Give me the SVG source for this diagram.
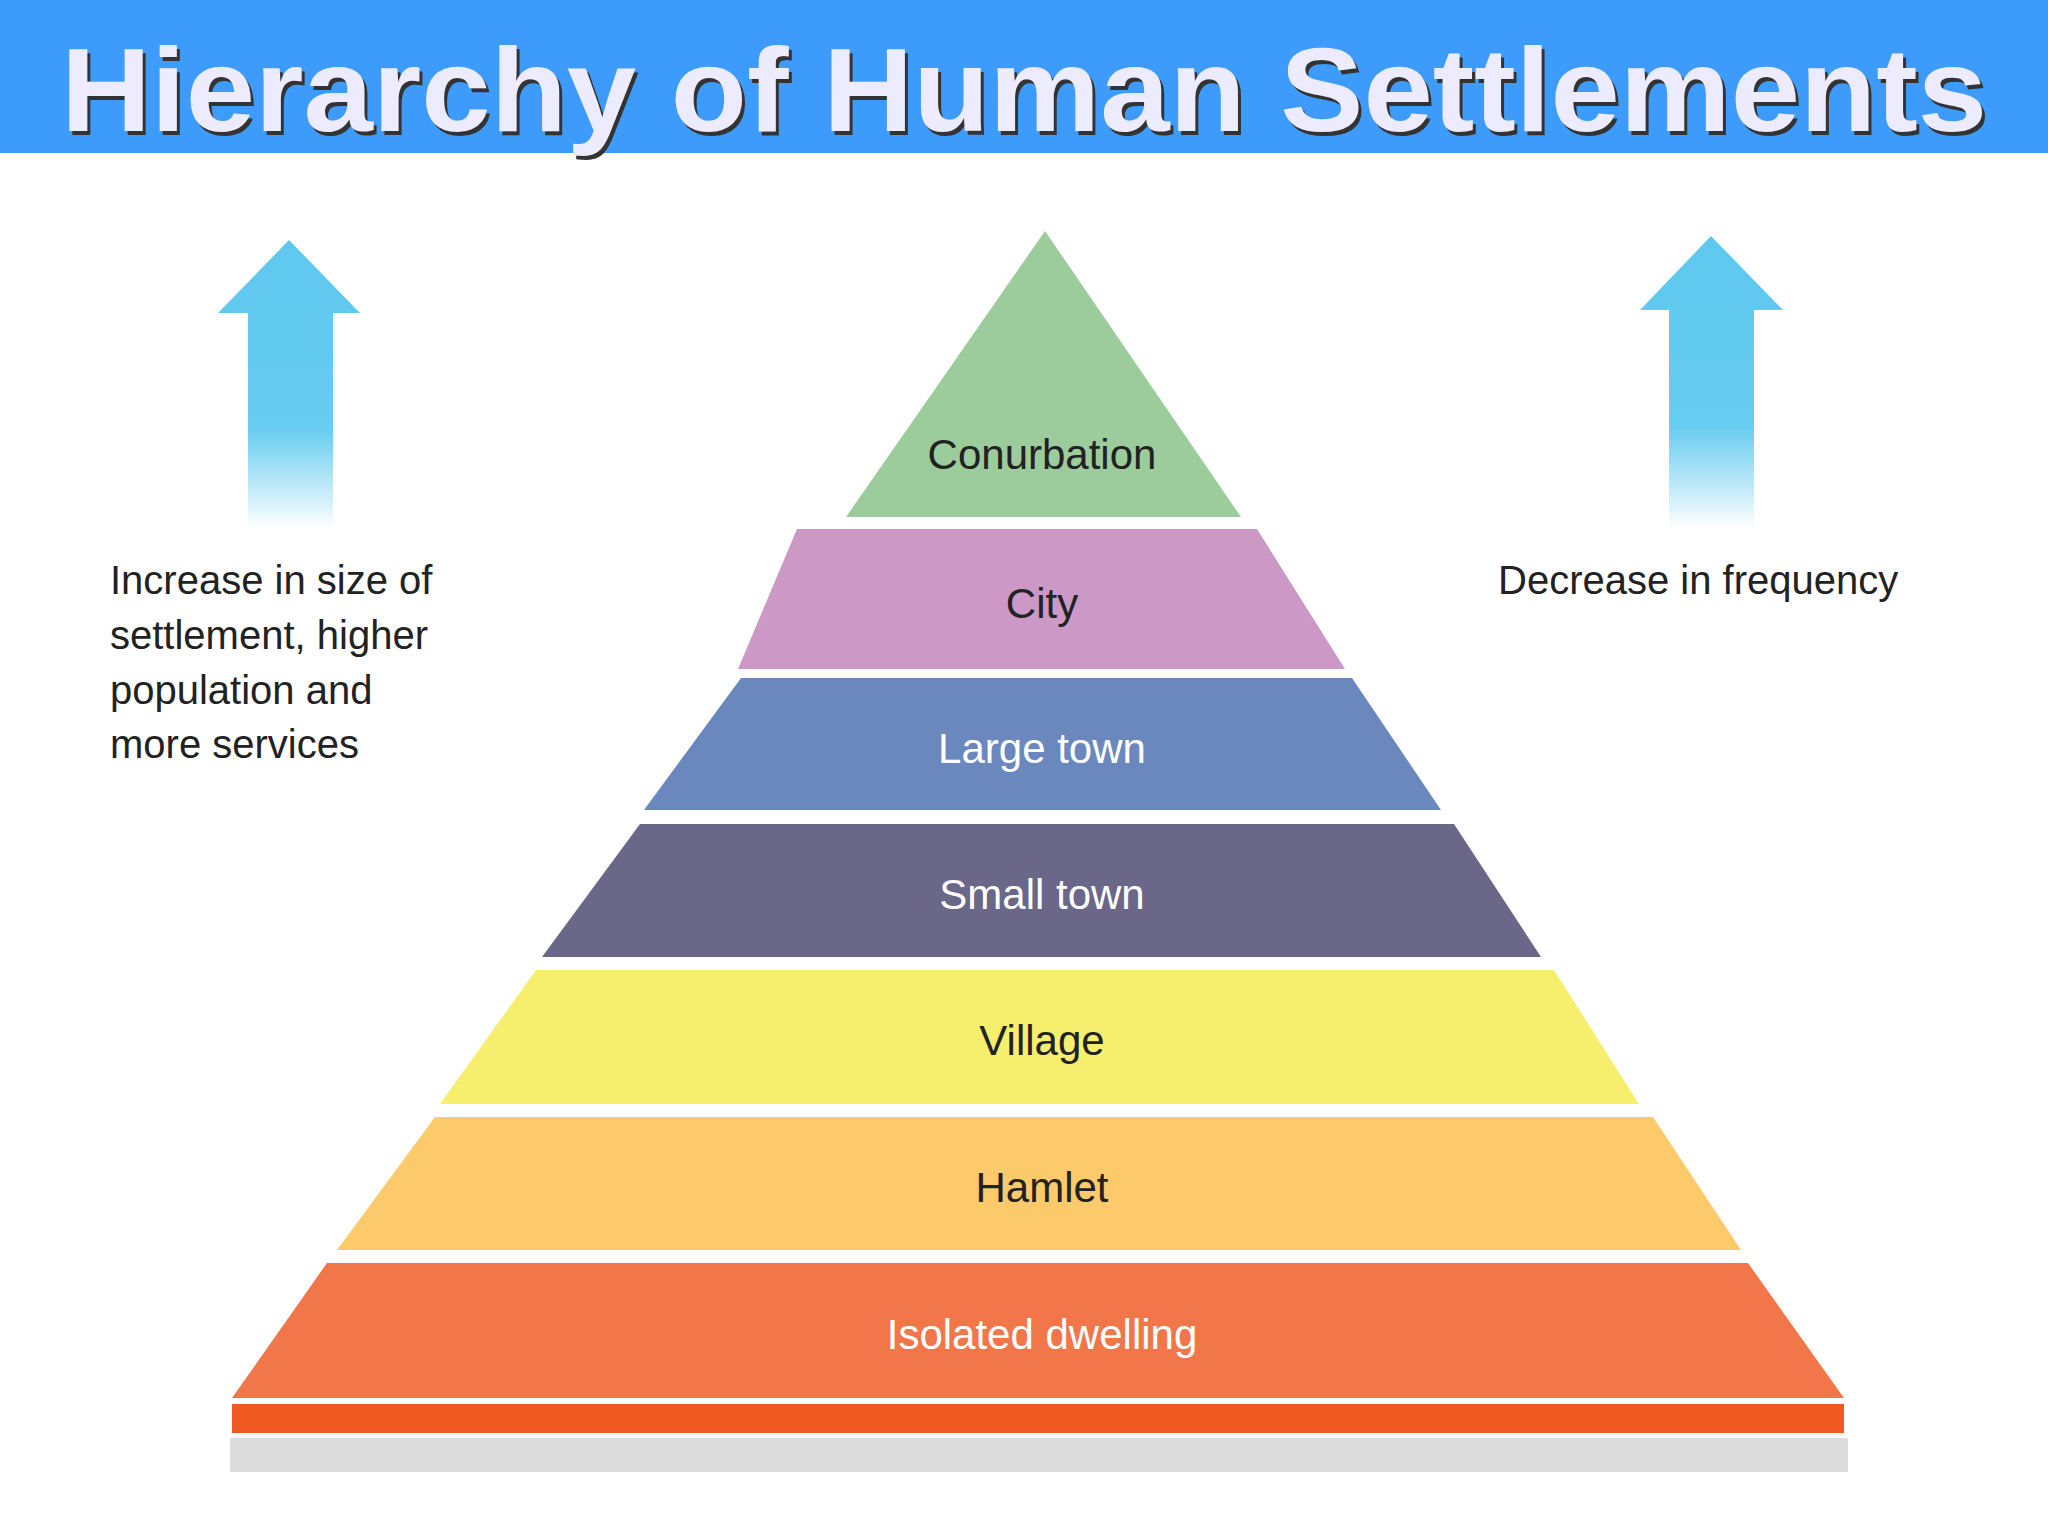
<svg xmlns="http://www.w3.org/2000/svg" width="2048" height="1536" viewBox="0 0 2048 1536">
<style>
.lbl{font-family:"Liberation Sans",Arial,sans-serif;font-size:42px;text-anchor:middle}
.dk{fill:#222}
.wt{fill:#fff}
.side{font-family:"Liberation Sans",Arial,sans-serif;font-size:40px;fill:#222}
</style>
<defs>
<linearGradient id="ar" x1="0" y1="0" x2="0" y2="1">
<stop offset="0" stop-color="#5fc8ee"/>
<stop offset="0.65" stop-color="#66ccf0"/>
<stop offset="1" stop-color="#66ccf0" stop-opacity="0"/>
</linearGradient>
</defs>
<rect width="2048" height="1536" fill="#fff"/>
<rect x="0" y="0" width="2048" height="153" fill="#3d9bfc"/>
<text x="1027" y="135" font-family="Liberation Sans,Arial,sans-serif" font-weight="bold" font-size="118" text-anchor="middle" textLength="1926" lengthAdjust="spacingAndGlyphs" fill="#333">Hierarchy of Human Settlements</text>
<text x="1024" y="131" font-family="Liberation Sans,Arial,sans-serif" font-weight="bold" font-size="118" text-anchor="middle" textLength="1926" lengthAdjust="spacingAndGlyphs" fill="#ecebff">Hierarchy of Human Settlements</text>
<g id="arrow-left"><polygon points="289,240 360,313 333,313 333,529 248,529 248,313 218,313" fill="url(#ar)"/></g>
<g id="arrow-right"><polygon points="1711,236 1783,310 1754,310 1754,529 1669,529 1669,310 1640,310" fill="url(#ar)"/></g>
<g id="text-left"><text class="side" x="110" y="594">Increase in size of</text><text class="side" x="110" y="649">settlement, higher</text><text class="side" x="110" y="704">population and</text><text class="side" x="110" y="758">more services</text></g>
<g id="text-right"><text class="side" x="1498" y="594">Decrease in frequency</text></g>
<g id="conurbation"><polygon points="1045,231 1241,517 846,517" fill="#9ccc9c"/><text class="lbl dk" x="1042" y="469">Conurbation</text></g>
<g id="city"><polygon points="797,529 1257,529 1345,669 738,669" fill="#cc99c6"/><text class="lbl dk" x="1042" y="618">City</text></g>
<g id="large-town"><polygon points="741,678 1352,678 1441,810 644,810" fill="#6a88bd"/><text class="lbl wt" x="1042" y="763">Large town</text></g>
<g id="small-town"><polygon points="640,824 1454,824 1541,957 542,957" fill="#6a6789"/><text class="lbl wt" x="1042" y="909">Small town</text></g>
<g id="village"><polygon points="536,970 1554,970 1639,1104 440,1104" fill="#f5ef6d"/><text class="lbl dk" x="1042" y="1055">Village</text></g>
<g id="hamlet"><polygon points="435,1117 1653,1117 1741,1250 337,1250" fill="#fdca6b"/><text class="lbl dk" x="1042" y="1202">Hamlet</text></g>
<g id="isolated-dwelling"><polygon points="327,1263 1748,1263 1844,1398 232,1398" fill="#f1774b"/><text class="lbl wt" x="1042" y="1349">Isolated dwelling</text></g>
<g id="base"><rect x="232" y="1404" width="1612" height="29" fill="#f05a22"/><rect x="230" y="1438" width="1618" height="34" fill="#dcdcdc"/></g>
<g id="connectors"/>
</svg>
